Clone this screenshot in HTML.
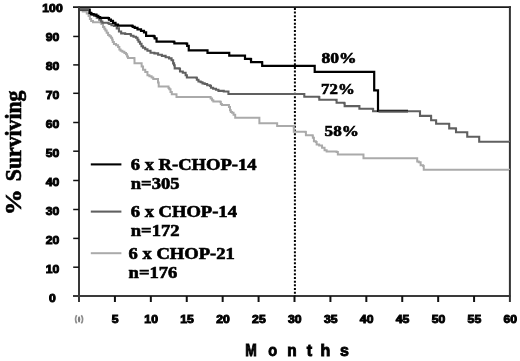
<!DOCTYPE html>
<html><head><meta charset="utf-8"><style>
html,body{margin:0;padding:0;background:#fff;}
body{width:520px;height:361px;overflow:hidden;position:relative;}
svg{position:absolute;left:0;top:0;filter:grayscale(1);}
.ax{font-family:"Liberation Sans",sans-serif;font-weight:bold;font-size:10.7px;fill:#000;stroke:#000;stroke-width:0.9px;}
.ser{font-family:"Liberation Serif",serif;font-weight:bold;fill:#000;stroke:#000;stroke-width:0.6px;}
</style></head><body>
<svg width="520" height="361" viewBox="0 0 520 361">
<g>
<rect width="520" height="361" fill="#fff"/>
<path d="M73 7.2 H511" stroke="#1a1a1a" stroke-width="1.8" fill="none"/>
<path d="M79 6.3 V302" stroke="#383838" stroke-width="2" fill="none"/>
<path d="M73 296 H510.5" stroke="#3a3a3a" stroke-width="2" fill="none"/>
<path d="M509.9 6.3 V302" stroke="#333" stroke-width="2" fill="none"/>
<path d="M73.2 36.45 H79" stroke="#111" stroke-width="1.5" fill="none"/>
<path d="M73.2 64.90 H79" stroke="#111" stroke-width="1.5" fill="none"/>
<path d="M73.2 93.30 H79" stroke="#111" stroke-width="1.5" fill="none"/>
<path d="M73.2 122.50 H79" stroke="#111" stroke-width="1.5" fill="none"/>
<path d="M73.2 151.20 H79" stroke="#111" stroke-width="1.5" fill="none"/>
<path d="M73.2 180.50 H79" stroke="#111" stroke-width="1.5" fill="none"/>
<path d="M73.2 209.50 H79" stroke="#111" stroke-width="1.5" fill="none"/>
<path d="M73.2 238.40 H79" stroke="#111" stroke-width="1.5" fill="none"/>
<path d="M73.2 267.20 H79" stroke="#111" stroke-width="1.5" fill="none"/>
<path d="M114.92 296 V302" stroke="#111" stroke-width="2" fill="none"/>
<path d="M150.83 296 V302" stroke="#111" stroke-width="2" fill="none"/>
<path d="M186.75 296 V302" stroke="#111" stroke-width="2" fill="none"/>
<path d="M222.67 296 V302" stroke="#111" stroke-width="2" fill="none"/>
<path d="M258.58 296 V302" stroke="#111" stroke-width="2" fill="none"/>
<path d="M294.50 296 V302" stroke="#111" stroke-width="2" fill="none"/>
<path d="M330.42 296 V302" stroke="#111" stroke-width="2" fill="none"/>
<path d="M366.33 296 V302" stroke="#111" stroke-width="2" fill="none"/>
<path d="M402.25 296 V302" stroke="#111" stroke-width="2" fill="none"/>
<path d="M438.17 296 V302" stroke="#111" stroke-width="2" fill="none"/>
<path d="M474.08 296 V302" stroke="#111" stroke-width="2" fill="none"/>
<path d="M294.9 7.9 V296" stroke="#000" stroke-width="2" stroke-dasharray="2 1.686" fill="none"/>
<path d="M80.00 10.30H82.75V11.55H85.50H86.75V13.40H88.00H88.62V15.90H89.25H89.88V19.05H90.50H91.12V20.90H91.75H93.00V22.20H94.25H100.50V22.55H101.40V24.10H102.30H103.05V26.90H103.80H104.30V28.70H104.80H105.35V30.50H105.90H106.65V32.70H107.40H108.10V34.90H108.80H109.50V36.30H110.20H110.95V37.80H111.70H112.10V39.80H112.50H112.75V42.10H113.00H113.90V43.90H114.80H116.10V45.30H117.40H118.10V47.10H118.80H119.35V49.60H119.90H120.60V50.70H121.30H122.40V51.80H123.50H124.40V52.90H125.30H126.00V54.30H126.70H127.10V56.50H127.50H128.00V58.10H128.50H134.20V58.30H134.50V63.20H134.80H141.10V63.30H141.65V66.40H142.20H143.05V69.70H143.90H145.25V71.90H146.60H147.45V75.20H148.30H149.40V76.30H150.50H151.60V77.50H152.70H153.25V79.10H153.80H157.70H158.00V82.40H158.30H158.70V86.40H159.10H168.30H168.50V88.10H168.70H169.30V89.20H169.90H170.50V91.90H171.10H171.80V94.20H172.50H176.20H176.50V96.90H176.80H210.00H210.62V98.60H211.25H212.07V100.30H212.90H213.32V101.55H213.75H220.40V102.00H220.82V104.05H221.25H221.88V104.90H222.50H228.30H228.95V107.00H229.60H230.00V110.30H230.40H230.82V112.00H231.25H232.07V112.80H232.90H233.55V114.80H234.20H235.20V117.80H236.20H258.75H259.38V123.20H260.00H276.90H277.15V126.10H277.40H293.40V126.30H293.80V131.70H294.20H305.50V131.90H305.90V135.20H306.30H312.40V135.40H312.85V137.80H313.30H313.90V141.30H314.50H315.80V141.90H316.65V144.40H317.50H319.15V145.50H320.80H322.05V147.70H323.30H324.55V150.20H325.80H326.65V151.50H327.50H336.60V151.90H337.85V154.50H339.10H363.20V154.40H363.48V158.30H363.75H416.90H417.20V161.55H417.50H418.75V162.20H420.00H420.62V165.30H421.25H423.10V165.90H423.75V169.80H424.40H509.00V169.90" stroke="#aaa" stroke-width="2" fill="none"/>
<path d="M80.00 9.70H89.25H89.88V13.40H90.50H91.75V14.70H93.00H94.25V15.90H95.50H96.75V17.80H98.00H99.25V19.70H100.50H101.12V21.55H101.75H102.38V22.80H103.00H108.00V23.20H109.25V24.05H110.50H111.45V25.30H112.40H113.95V25.90H115.50H116.75V28.40H118.00H118.95V31.55H119.90H121.15V33.40H122.40H125.20V34.05H128.00H130.00V34.30H131.00V35.80H132.00H133.50V36.80H135.00H136.00V37.80H137.00H137.50V39.80H138.00H138.50V41.80H139.00H140.00V43.80H141.00H141.50V46.30H142.00H143.00V47.80H144.00H145.20V49.30H146.40H147.45V50.80H148.50H150.50V52.80H152.50H154.38V53.40H156.25H158.12V54.70H160.00H161.88V55.90H163.75H165.62V57.20H167.50H169.05V58.40H170.60H171.55V60.30H172.50H173.12V63.40H173.75H174.07V65.30H174.40H174.70V68.40H175.00H179.40V68.80H180.00V71.55H180.60H182.80V72.80H185.00H185.62V75.30H186.25H186.88V77.55H187.50H196.25V77.80H196.88V79.70H197.50H198.45V81.55H199.40H200.65V82.20H201.90H202.50V83.40H203.10H204.68V84.05H206.25H207.18V85.30H208.10H210.00V85.90H210.95V87.80H211.90H213.15V88.80H214.40H215.95V89.70H217.50H218.45V90.90H219.40H223.75V91.55H228.10H228.43V94.05H228.75H303.80V93.95H304.30V96.80H304.80H318.80V97.10H319.30V99.70H319.80H336.10V99.90H336.60V102.80H337.10H344.20V103.20H344.65V106.10H345.10H359.00H359.40V108.70H359.80H372.70V109.00H373.10V111.30H373.50H420.00V111.55V115.90H431.00V116.20H431.12V120.30H431.25H436.00V120.55H436.12V123.80H436.25H449.00V124.05H449.20V128.40H449.40H455.80V128.70H456.02V132.20H456.25H467.00V132.40H467.25V136.80H467.50H479.00V136.90H479.20V141.80H479.40H509.00V141.90" stroke="#606060" stroke-width="2.1" fill="none"/>
<path d="M80.00 9.70H88.50H89.50V12.80H90.50H91.12V14.05H91.75H93.62V14.70H95.50H96.45V15.90H97.40H98.33V17.20H99.25H100.12V17.80H101.00H108.00V18.20H109.00V19.70H110.00H110.88V20.90H111.75H113.00V22.80H114.25H115.50V24.70H116.75H118.00V25.60H119.25H132.00V25.80H132.70V26.90H133.40H134.70V27.90H136.00H137.50V29.30H139.00H141.00V30.80H143.00H144.00V32.30H145.00H146.10V35.90H147.20H153.75V36.30H154.68V38.40H155.60H156.55V41.55H157.50H173.75V41.80H174.38V43.40H175.00H186.25V43.70H187.18V45.90H188.10H188.75V50.30H189.40H206.90H207.50V52.80H208.10H228.75H229.25V55.55H229.75H244.40H245.00V58.80H245.60H250.60V59.05H251.05V62.20H251.50H261.90V62.40H262.20V65.90H262.50H314.40H314.70V71.80H315.00H374.20V90.30H378.00V110.90H408.00" stroke="#000" stroke-width="2.2" fill="none"/>
<path d="M80 9.7 H89" stroke="#5a5a5a" stroke-width="2" fill="none"/>
<path d="M378.5 111.55 H408" stroke="#555" stroke-width="2.1" fill="none"/>
<path d="M90.8 164.4 H121.4" stroke="#000" stroke-width="2.1" fill="none"/>
<path d="M90.8 211.6 H121.4" stroke="#606060" stroke-width="2.1" fill="none"/>
<path d="M90.8 253.2 H121.4" stroke="#aaa" stroke-width="2" fill="none"/>
<text class="ax" text-anchor="middle" transform="translate(52.5 301.95) scale(1.14 1)">0</text>
<text class="ax" text-anchor="middle" transform="translate(52.5 272.95) scale(1.14 1)">10</text>
<text class="ax" text-anchor="middle" transform="translate(52.5 243.95) scale(1.14 1)">20</text>
<text class="ax" text-anchor="middle" transform="translate(52.5 214.95) scale(1.14 1)">30</text>
<text class="ax" text-anchor="middle" transform="translate(52.5 185.95) scale(1.14 1)">40</text>
<text class="ax" text-anchor="middle" transform="translate(52.5 156.95) scale(1.14 1)">50</text>
<text class="ax" text-anchor="middle" transform="translate(52.5 127.95) scale(1.14 1)">60</text>
<text class="ax" text-anchor="middle" transform="translate(52.5 98.95) scale(1.14 1)">70</text>
<text class="ax" text-anchor="middle" transform="translate(52.5 69.95) scale(1.14 1)">80</text>
<text class="ax" text-anchor="middle" transform="translate(52.5 40.95) scale(1.14 1)">90</text>
<text class="ax" text-anchor="middle" transform="translate(52.5 11.95) scale(1.14 1)">100</text>
<text class="ax" text-anchor="middle" transform="translate(115.22 323.05) scale(1.14 1)">5</text>
<text class="ax" text-anchor="middle" transform="translate(151.13 323.05) scale(1.14 1)">10</text>
<text class="ax" text-anchor="middle" transform="translate(187.05 323.05) scale(1.14 1)">15</text>
<text class="ax" text-anchor="middle" transform="translate(222.97 323.05) scale(1.14 1)">20</text>
<text class="ax" text-anchor="middle" transform="translate(258.88 323.05) scale(1.14 1)">25</text>
<text class="ax" text-anchor="middle" transform="translate(294.80 323.05) scale(1.14 1)">30</text>
<text class="ax" text-anchor="middle" transform="translate(330.72 323.05) scale(1.14 1)">35</text>
<text class="ax" text-anchor="middle" transform="translate(366.63 323.05) scale(1.14 1)">40</text>
<text class="ax" text-anchor="middle" transform="translate(402.55 323.05) scale(1.14 1)">45</text>
<text class="ax" text-anchor="middle" transform="translate(438.47 323.05) scale(1.14 1)">50</text>
<text class="ax" text-anchor="middle" transform="translate(474.38 323.05) scale(1.14 1)">55</text>
<text class="ax" text-anchor="middle" transform="translate(510.30 323.05) scale(1.14 1)">60</text>
<text class="ser" style="font-size:16px" transform="translate(130.8 169.7) scale(1.16 1)">6 x R-CHOP-14</text>
<text class="ser" style="font-size:16px" transform="translate(130.8 188.7) scale(1.16 1)">n=305</text>
<text class="ser" style="font-size:16px" transform="translate(130.8 217.4) scale(1.16 1)">6 x CHOP-14</text>
<text class="ser" style="font-size:16px" transform="translate(130.8 236) scale(1.16 1)">n=172</text>
<text class="ser" style="font-size:16px" transform="translate(128.6 258.5) scale(1.16 1)">6 x CHOP-21</text>
<text class="ser" style="font-size:16px" transform="translate(128.6 278.3) scale(1.16 1)">n=176</text>
<text class="ser" style="font-size:15px" transform="translate(321.5 63) scale(1.17 1)">80%</text>
<text class="ser" style="font-size:15px" transform="translate(321.1 94.2) scale(1.12 1)">72%</text>
<text class="ser" style="font-size:15px" transform="translate(324.6 136.3) scale(1.14 1)">58%</text>
<text class="ser" style="font-size:22.5px" transform="translate(20.8 181.2) rotate(-90) scale(0.967 1)">Surviving</text>
<text class="ser" style="font-size:22.5px" transform="translate(20.7 215.2) rotate(-90) scale(1.16 1)">%</text>
<text class="ax" style="font-size:16px" transform="translate(245.26 356.1) scale(0.866 1)">M</text>
<text class="ax" style="font-size:16px" transform="translate(268.19 356.1) scale(0.905 1)">o</text>
<text class="ax" style="font-size:16px" transform="translate(287.3 356.1) scale(0.96 1)">n</text>
<text class="ax" style="font-size:16px" transform="translate(306.75 356.1) scale(1 1)">t</text>
<text class="ax" style="font-size:16px" transform="translate(320.38 356.1) scale(1 1)">h</text>
<text class="ax" style="font-size:16px" transform="translate(340 356.1) scale(1 1)">s</text>
<path d="M76.7 315.2 Q74.4 319.3 76.7 323.4" stroke="#909090" stroke-width="1.7" fill="none"/>
<ellipse cx="79.1" cy="319.3" rx="1.2" ry="3.1" fill="#7c7c7c"/>
<path d="M81.3 315.2 Q84 319.3 81.3 323.4" stroke="#8c8c8c" stroke-width="1.7" fill="none"/>
</g>
</svg>
</body></html>
